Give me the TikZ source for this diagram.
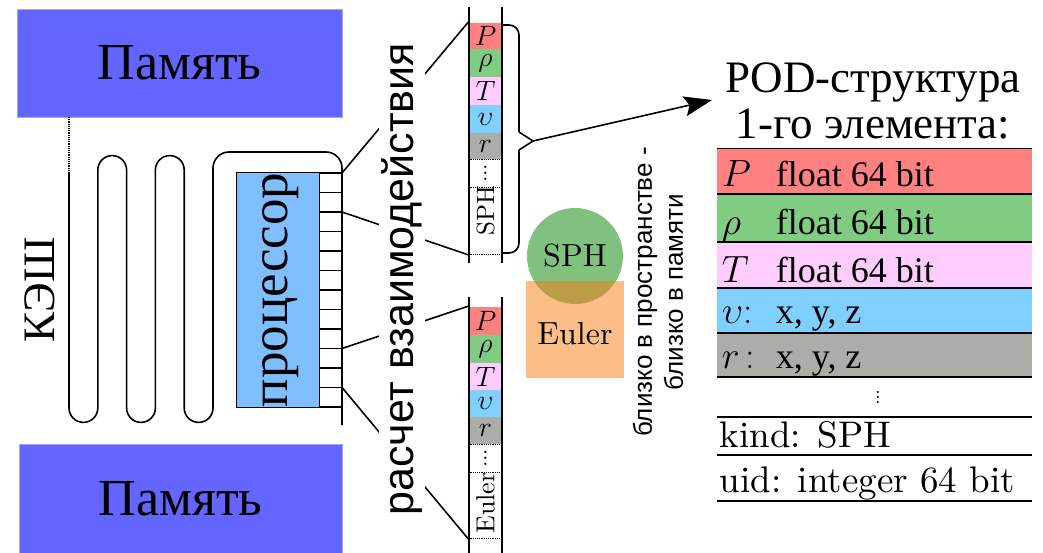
\RequirePackage{fix-cm}
\documentclass[tikz,border=0pt]{standalone}
\usepackage{fontspec}
\usepackage{graphicx}
\newfontfamily\cserif{Liberation Serif}
\newfontfamily\csans{Liberation Sans}
\newfontfamily\lmten{lmroman10-regular.otf}
\newcommand{\stackdots}[1]{\vbox{\baselineskip=#1\lineskiplimit=0pt\hbox{.}\hbox{.}\hbox{.}}}
\usetikzlibrary{arrows.meta}
\definecolor{mem}{RGB}{100,100,255}
\definecolor{proc}{RGB}{128,191,255}
\definecolor{cP}{RGB}{255,128,128}
\definecolor{cR}{RGB}{128,204,128}
\definecolor{cT}{RGB}{255,204,255}
\definecolor{cV}{RGB}{128,208,255}
\definecolor{cX}{RGB}{170,173,168}
\definecolor{sphc}{RGB}{60,160,60}
\definecolor{eulc}{RGB}{250,125,15}
\tikzset{
  membox/.style={fill=mem, draw=mem!60!white, line width=0.6pt, inner sep=0pt, font=\cserif\fontsize{52}{60}\selectfont},
  cell/.style={minimum width=33pt, inner sep=0pt, font=\fontsize{28}{30}\selectfont},
  dotcell/.style={minimum width=33pt, inner sep=0pt, font=\lmten\fontsize{22}{22}\selectfont},
  sepline/.style={densely dotted, line width=1.2pt},
  sym/.style={anchor=base west, inner sep=0pt, font=\fontsize{38}{40}\selectfont},
  val/.style={anchor=base west, inner sep=0pt, font=\cserif\fontsize{36}{40}\selectfont},
  lmtxt/.style={anchor=base west, inner sep=0pt, font=\lmten\fontsize{37}{40}\selectfont},
  rowline/.style={line width=1.4pt}
}
\begin{document}
\begin{tikzpicture}[x=1pt,y=-1pt,line width=1.6pt]
\useasboundingbox (0,0) rectangle (1043,553);

% memory blocks
\node[membox, minimum width=325pt, minimum height=108pt] (mem1) at (179.5,63) {Память};
\node[membox, minimum width=323pt, minimum height=109pt] (mem2) at (180.5,498.5) {Память};

% cache label
\node[rotate=90, font=\cserif\fontsize{45}{50}\selectfont] (cache) at (40,290) {КЭШ};

% cache serpentine
\coordinate (cachetop) at (69,172);
\draw[sepline] (69,117) -- (cachetop);
\draw (cachetop) -- (69,408) arc[start angle=180,end angle=0,radius=14.4]
  -- (97.8,170) arc[start angle=180,end angle=360,radius=14.4]
  -- (126.6,408) arc[start angle=180,end angle=0,radius=14.4]
  -- (155.4,170) arc[start angle=180,end angle=360,radius=14.4]
  -- (184.2,408) arc[start angle=180,end angle=0,radius=14.4];
\draw[rounded corners=16] (213,408) -- (213,152) -- (342,152) -- (342,425);

% processor
\node[fill=proc, draw, line width=1pt, minimum width=83pt, minimum height=234pt, inner sep=0pt] (cpu) at (277.5,290) {};
\node[rotate=90, font=\cserif\fontsize{53}{60}\selectfont] (cputxt) at (281,290) {процессор};

% ports
\foreach \i in {0,...,12} {
  \coordinate (port\i) at (342,173+19.5*\i);
  \draw[line width=1.2pt] (319,173+19.5*\i) -- (port\i);
}

% top column
\node[cell, fill=cP, minimum height=26pt] (tc1) at (485.5,36) {$P$};
\node[cell, fill=cR, minimum height=28pt] (tc2) at (485.5,63) {$\rho$};
\node[cell, fill=cT, minimum height=28pt] (tc3) at (485.5,91) {$T$};
\node[cell, fill=cV, minimum height=28pt] (tc4) at (485.5,119) {$\upsilon$};
\node[cell, fill=cX, minimum height=26pt] (tc5) at (485.5,146) {$r$};
\node[dotcell, minimum height=28pt] (tc6) at (485.5,173) {\stackdots{6pt}};
\node[cell, minimum height=67pt] (tc7) at (485.5,220.5) {};
\node[rotate=90, inner sep=0pt, font=\lmten\fontsize{25}{26}\selectfont] (tc7lab) at (485.5,211) {SPH};
\draw (469,7) -- (469,263);
\draw (502,7) -- (502,263);
\draw[sepline] (tc5.south west) -- (tc5.south east);
\draw[sepline] (tc6.south west) -- (tc6.south east);
\draw[sepline] (tc7.south west) -- (tc7.south east);

% bottom column
\node[cell, fill=cP, minimum height=28pt] (bc1) at (485.5,321) {$P$};
\node[cell, fill=cR, minimum height=28pt] (bc2) at (485.5,349) {$\rho$};
\node[cell, fill=cT, minimum height=27pt] (bc3) at (485.5,376.5) {$T$};
\node[cell, fill=cV, minimum height=27pt] (bc4) at (485.5,403.5) {$\upsilon$};
\node[cell, fill=cX, minimum height=27pt] (bc5) at (485.5,430.5) {$r$};
\node[dotcell, minimum height=28pt] (bc6) at (485.5,458) {\stackdots{6pt}};
\node[cell, minimum height=66pt] (bc7) at (485.5,505) {};
\node[rotate=90, inner sep=0pt, font=\lmten\fontsize{26}{27}\selectfont] (bc7lab) at (485.5,503) {Euler};
\draw (469,297) -- (469,553);
\draw (502,297) -- (502,553);
\draw[sepline] (bc5.south west) -- (bc5.south east);
\draw[sepline] (bc6.south west) -- (bc6.south east);
\draw[sepline] (bc7.south west) -- (bc7.south east);

% connectors from processor ports to columns
\draw (port0) -- (tc1.north west);
\draw (port2) -- (tc7.south west);
\draw (port9) -- (bc1.north west);
\draw (port11) -- (bc7.south west);
\node[rotate=90, fill=white, inner sep=2.5pt, font=\csans\fontsize{43}{50}\selectfont] (calc) at (402,279) {расчет взаимодействия};

% brace and arrow
\coordinate (brtip) at (533,141);
\coordinate (arrowend) at (712,100);
\draw[rounded corners=10] (502,25) -- (519,25) -- (519,132);
\draw (519,132) -- (brtip) -- (519,150);
\draw[rounded corners=10] (519,150) -- (519,253) -- (502,253);
\draw[-{Stealth[length=28pt,width=20pt,inset=5pt]}] (brtip) -- (arrowend);

% SPH / Euler
\node[circle, fill=sphc, fill opacity=0.65, text opacity=1, minimum size=96pt, inner sep=0pt, font=\lmten\fontsize{32}{36}\selectfont] (sph) at (575,256) {SPH};
\node[fill=eulc, fill opacity=0.5, minimum width=98pt, minimum height=97pt, inner sep=0pt] (eul) at (575,329.5) {};
\node[font=\lmten\fontsize{32}{36}\selectfont] (eultxt) at (575,334) {Euler};

% locality text
\node[rotate=90, align=center, font=\csans\fontsize{26}{31}\selectfont] (near) at (658,292) {близко в пространстве -\\близко в памяти};

% POD structure title
\node[align=center, font=\cserif\fontsize{45}{46}\selectfont] (title) at (873,101) {POD-структура\\1-го элемента:};

% table
\fill[cP] (717,148) rectangle (1032,194);
\fill[cR] (717,194) rectangle (1032,242);
\fill[cT] (717,242) rectangle (1032,288);
\fill[cV] (717,288) rectangle (1032,333);
\fill[cX] (717,333) rectangle (1032,377);
\draw[line width=0.6pt] (717,148) -- (1032,148);
\foreach \yy in {194,242,288,333,377,417,455,501} {
  \draw[rowline] (717,\yy) -- (1032,\yy);
}
\node[sym] (sP) at (721,187) {$P$};
\node[val] (vP) at (775,187) {float 64 bit};
\node[sym] (sRho) at (721,235) {$\rho$};
\node[val] (vRho) at (775,235) {float 64 bit};
\node[sym] (sT) at (721,282) {$T$};
\node[val] (vT) at (775,282) {float 64 bit};
\node[sym] (sV) at (721,323) {$\upsilon$:};
\node[val] (vV) at (775,323) {x, y, z};
\node[sym] (sR) at (721,368) {$r$\,:};
\node[val] (vR) at (775,368) {x, y, z};
\node[inner sep=0pt, font=\lmten\fontsize{20}{20}\selectfont] (tdots) at (878,397) {\stackdots{5pt}};
\node[lmtxt] (kind) at (719,447) {kind: SPH};
\node[lmtxt] (uid) at (719,492) {uid: integer 64 bit};
\end{tikzpicture}
\end{document}
